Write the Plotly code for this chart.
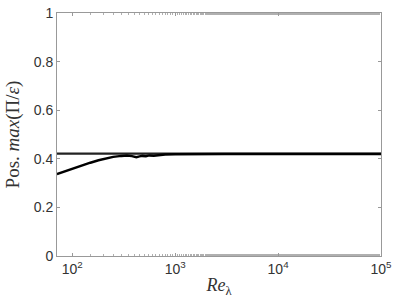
import plotly.graph_objects as go

# Series 1: flat plateau
re_flat = [71, 100, 200, 500, 1000, 3000, 10000, 30000, 100000]
pos_flat = [0.421, 0.421, 0.421, 0.421, 0.421, 0.421, 0.421, 0.421, 0.421]

# Series 2: rising curve converging to plateau
re_rise = [71, 80, 90, 100, 120, 150, 180, 210, 250, 300, 340, 380, 420, 450, 480, 520, 560, 620, 700, 800, 1000, 1500, 3000, 10000, 30000, 100000]
pos_rise = [0.337, 0.345, 0.352, 0.359, 0.370, 0.384, 0.394, 0.401, 0.408, 0.412, 0.414, 0.411, 0.407, 0.410, 0.412, 0.411, 0.414, 0.413, 0.416, 0.418, 0.419, 0.420, 0.420, 0.420, 0.420, 0.420]

x_tickvals = [100, 1000, 10000, 100000]
x_ticktext = ["10<sup>2</sup>", "10<sup>3</sup>", "10<sup>4</sup>", "10<sup>5</sup>"]
y_tickvals = [0, 0.2, 0.4, 0.6, 0.8, 1]
y_ticktext = ["0", "0.2", "0.4", "0.6", "0.8", "1"]

fig = go.Figure()
fig.add_trace(go.Scatter(x=re_flat, y=pos_flat, mode="lines",
                         line=dict(color="#222222", width=2.2), showlegend=False))
fig.add_trace(go.Scatter(x=re_rise, y=pos_rise, mode="lines",
                         line=dict(color="black", width=2.5), showlegend=False))

axis_common = dict(showgrid=False, zeroline=False, showline=True, linecolor="#999999",
                   linewidth=1, mirror="ticks", ticks="inside", ticklen=3, automargin=False,
                   tickcolor="#999999", tickfont=dict(family="Liberation Sans", size=14, color="#333333"))

fig.update_xaxes(type="log", range=[1.852, 5], tickvals=x_tickvals, ticktext=x_ticktext,
                 minor=dict(ticks="inside", ticklen=2, tickcolor="#b0b0b0", tickwidth=1, showgrid=False),
                 title=dict(text="<i>Re</i><sub>λ</sub>", font=dict(family="Liberation Serif", size=18, color="#333333"), standoff=2),
                 **axis_common)
fig.update_yaxes(range=[0, 1], tickvals=y_tickvals, ticktext=y_ticktext,
                 title=dict(text="Pos. <i>max</i>(Π/<i>ε</i>)", font=dict(family="Liberation Serif", size=19, color="#333333"), standoff=9),
                 **axis_common)

fig.update_layout(width=399, height=301, margin=dict(l=57, r=18, t=13, b=45),
                  plot_bgcolor="white", paper_bgcolor="white")
fig.write_html("out.html", config={"displayModeBar": False},
               post_script="document.body.style.margin='0';document.body.style.overflow='hidden';")
